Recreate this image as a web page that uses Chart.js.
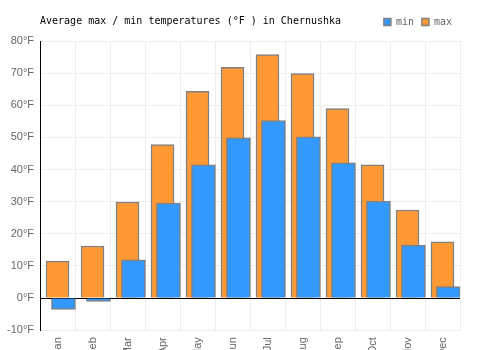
<!DOCTYPE html>
<html>
<head>
<meta charset="utf-8">
<script src="https://cdn.jsdelivr.net/npm/chart.js@4/dist/chart.umd.min.js"></script>
<style>
  html, body { margin: 0; padding: 0; background: #fff; overflow: hidden; }
  #wrap { position: relative; width: 500px; height: 365px; }
</style>
</head>
<body>
<div id="wrap"><canvas id="c"></canvas></div>
<script>
const titleText = "Average max / min temperatures (°F ) in Chernushka";
const months = ["Jan", "Feb", "Mar", "Apr", "May", "Jun", "Jul", "Aug", "Sep", "Oct", "Nov", "Dec"];
const minF = [-3.5, -1.0, 11.9, 29.6, 41.5, 49.9, 55.2, 50.2, 42.1, 30.2, 16.5, 3.6];
const maxF = [11.5, 16.2, 29.9, 47.8, 64.3, 71.8, 75.8, 69.9, 59.0, 41.5, 27.4, 17.5];
const yMin = -10, yMax = 80, yStep = 10;

// min bars sit a little to the right of the max bars
const shift = 0.17;

const titlePlugin = {
    id: "leftTitle",
    afterDraw(chart){
        const ctx = chart.ctx;
        ctx.save();
        ctx.font = '10px "DejaVu Sans Mono"';
        ctx.fillStyle = "#000";
        ctx.textBaseline = "middle";
        ctx.textAlign = "left";
        ctx.fillText(titleText, chart.chartArea.left, 21);
        ctx.restore();
    }
};

// a bit more room under the legend
const legendMargin = {
    id: "legendMargin",
    beforeInit(chart){
        const fit = chart.legend.fit;
        chart.legend.fit = function(){
            fit.bind(chart.legend)();
            this.height += 4;
        };
    }
};

new Chart(document.getElementById("c"), {
    type: "bar",
    data: {
        labels: months,
        datasets: [
            {
                label: "min",
                data: minF.map((v, i) => ({x: i, y: v})),
                xAxisID: "x2",
                backgroundColor: "#3399ff",
                borderColor: "#808080",
                borderWidth: 1.5,
                barThickness: 24,
                grouped: false
            },
            {
                label: "max",
                data: maxF,
                xAxisID: "x",
                backgroundColor: "#ff9933",
                borderColor: "#808080",
                borderWidth: 1.5,
                barThickness: 23,
                grouped: false
            }
        ]
    },
    options: {
        responsive: true,
        maintainAspectRatio: false,
        animation: false,
        layout: { padding: { left: 1, right: 40, top: 9, bottom: 0 } },
        plugins: {
            title: { display: false },
            tooltip: { enabled: false },
            legend: {
                position: "top",
                align: "end",
                labels: {
                    boxWidth: 7,
                    boxHeight: 7,
                    padding: 8,
                    color: "#666",
                    font: { family: "DejaVu Sans Mono", size: 10 }
                }
            }
        },
        scales: {
            x: {
                type: "category",
                offset: true,
                grid: { color: "#eeeeee", drawTicks: false, offset: true },
                border: { color: "#eeeeee" },
                ticks: {
                    color: "#666",
                    font: { family: "Liberation Sans", size: 11 },
                    minRotation: 90,
                    maxRotation: 90,
                    autoSkip: false,
                    padding: 7
                }
            },
            x2: {
                type: "linear",
                position: "bottom",
                display: false,
                offset: false,
                grid: { offset: false },
                min: -0.5 - shift,
                max: months.length - 0.5 - shift,
                ticks: { stepSize: 1 }
            },
            y: {
                min: yMin,
                max: yMax,
                grid: {
                    drawTicks: false,
                    color: (c) => c.tick && c.tick.value === 0 ? "#000" : "#eeeeee"
                },
                border: { color: "#000" },
                ticks: {
                    stepSize: yStep,
                    padding: 6,
                    color: "#666",
                    font: { family: "Liberation Sans", size: 11 },
                    callback: (v) => v + "°F"
                }
            }
        }
    },
    plugins: [titlePlugin, legendMargin]
});
</script>
</body>
</html>
